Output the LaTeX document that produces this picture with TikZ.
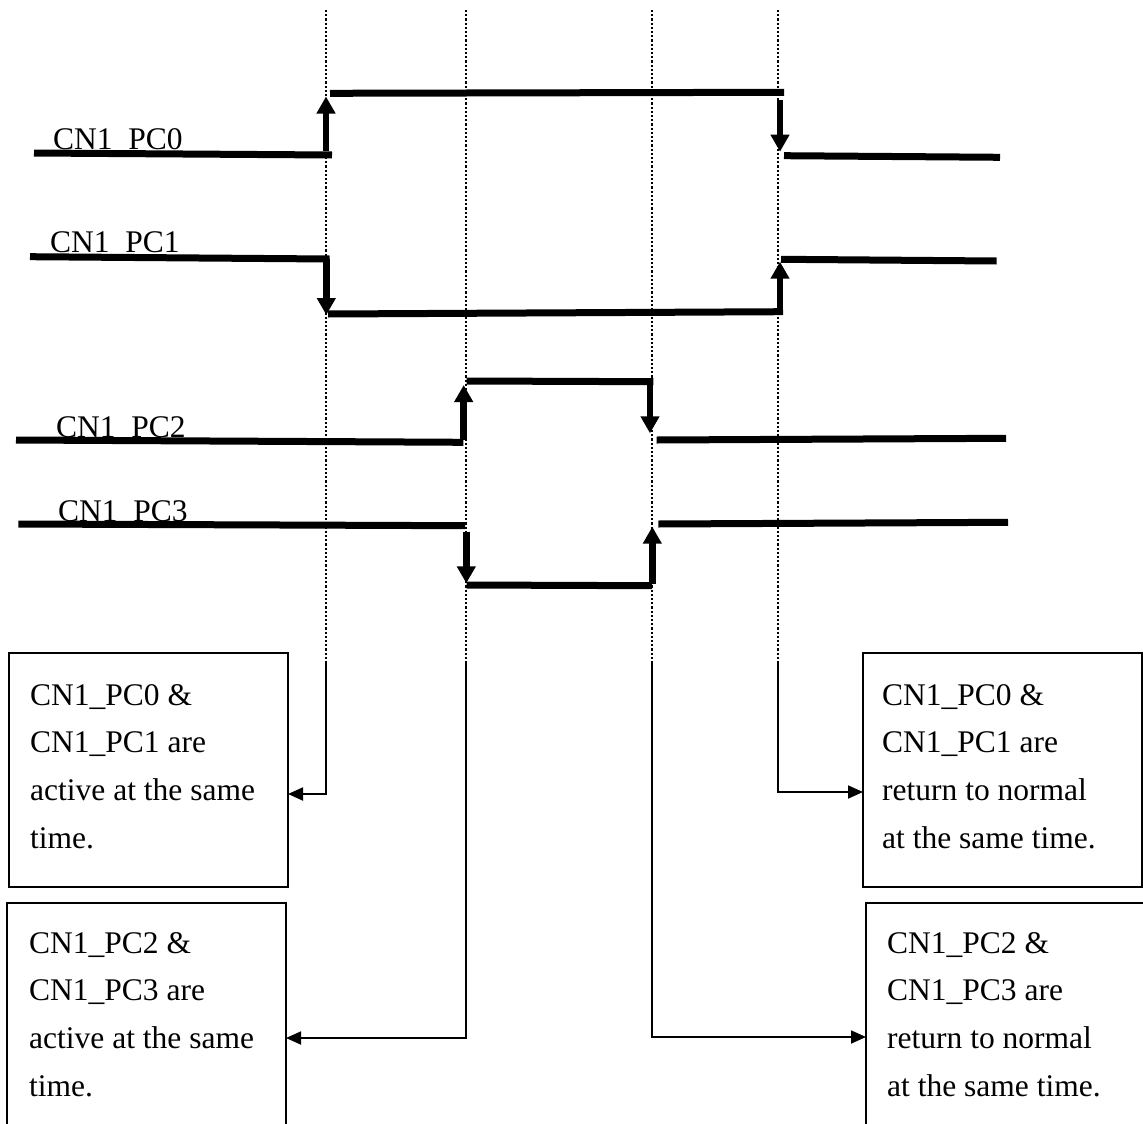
\documentclass[tikz,border=0pt]{standalone}
\usepackage{fontspec}
\setmainfont{Liberation Serif}
\usetikzlibrary{arrows.meta}
\begin{document}
\begin{tikzpicture}[x=1pt,y=-1pt,
  sig/.style={line width=7pt, line cap=butt},
  edgearr/.style={line width=6.5pt, line cap=butt, -{Triangle[length=17pt,width=18pt]}},
  guide/.style={line width=2.2pt, dash pattern=on 2.2pt off 2pt},
  conn/.style={line width=1.8pt, -{Triangle[length=15pt,width=13pt]}},
  box/.style={draw, line width=2pt, rectangle, inner sep=0pt, outer sep=0pt, anchor=north west, minimum width=279pt},
  lbl/.style={inner sep=0pt, anchor=base west, font=\fontsize{31.5pt}{38pt}\selectfont},
]
\path[use as bounding box, clip] (0,0) rectangle (1143,1124);
\fill[white] (0,0) rectangle (1143,1124);

% guide lines (dotted)
\coordinate (g1top) at (326,10);  \coordinate (g1bot) at (326,663);  \coordinate (g1k) at (326,794);
\coordinate (g2top) at (466,10);  \coordinate (g2bot) at (466,663);  \coordinate (g2k) at (466,1038);
\coordinate (g3top) at (652,10);  \coordinate (g3bot) at (652,663);  \coordinate (g3k) at (652,1037);
\coordinate (g4top) at (778,10);  \coordinate (g4bot) at (778,663);  \coordinate (g4k) at (778,792);
\draw[guide] (g1top) -- (g1bot);
\draw[guide] (g2top) -- (g2bot);
\draw[guide] (g3top) -- (g3bot);
\draw[guide] (g4top) -- (g4bot);

% signal labels
\node[lbl] (l0) at (53,149) {CN1\_PC0};
\node[lbl] (l1) at (50,252) {CN1\_PC1};
\node[lbl] (l2) at (56,437) {CN1\_PC2};
\node[lbl] (l3) at (58,521) {CN1\_PC3};

% CN1_PC0
\draw[sig] (34,153) -- (332,155);
\draw[edgearr] (326,151) -- (326,96.5);
\draw[sig] (330,93.3) -- (784,92.3);
\draw[edgearr] (780,100) -- (780,151.7);
\draw[sig] (784,155.7) -- (1000,157.3);

% CN1_PC1
\draw[sig] (30,256.7) -- (329.5,259);
\draw[edgearr] (326.3,259) -- (326.3,315);
\draw[sig] (328,314) -- (783,311.7);
\draw[edgearr] (780,315) -- (780,261.7);
\draw[sig] (781,259.3) -- (996.7,261);

% CN1_PC2
\draw[sig] (16,440) -- (463.3,442.3);
\draw[edgearr] (463.7,440) -- (463.7,385);
\draw[sig] (466.7,381) -- (653.3,381.7);
\draw[edgearr] (650,381) -- (650,433.3);
\draw[sig] (656.7,440) -- (1006,438.3);

% CN1_PC3
\draw[sig] (18.3,524) -- (465,525.7);
\draw[edgearr] (466.3,531.7) -- (466.3,583.3);
\draw[sig] (466.7,585) -- (652,585.7);
\draw[edgearr] (652.3,584) -- (652.3,526.7);
\draw[sig] (658.3,524) -- (1008,522.3);

% boxes
\node[box, minimum height=234pt] (box1) at (9,653) {};
\node[box, minimum height=240pt] (box2) at (7,903) {};
\node[box, minimum height=234pt] (box3) at (863,653) {};
\node[box, minimum height=240pt] (box4) at (866,903) {};

% box texts
\foreach \t [count=\i] in {CN1\_PC0 \&, CN1\_PC1 are, active at the same, time.}
  \node[lbl] (ta\i) at (30,{705+47.8*(\i-1)}) {\t};
\foreach \t [count=\i] in {CN1\_PC2 \&, CN1\_PC3 are, active at the same, time.}
  \node[lbl] (tb\i) at (29,{953+47.8*(\i-1)}) {\t};
\foreach \t [count=\i] in {CN1\_PC0 \&, CN1\_PC1 are, return to normal, at the same time.}
  \node[lbl] (tc\i) at (882,{705+47.8*(\i-1)}) {\t};
\foreach \t [count=\i] in {CN1\_PC2 \&, CN1\_PC3 are, return to normal, at the same time.}
  \node[lbl] (td\i) at (887,{953+47.8*(\i-1)}) {\t};

% connectors to boxes
\draw[conn] (g1bot) -- (g1k) -- (g1k -| box1.east);
\draw[conn] (g2bot) -- (g2k) -- (g2k -| box2.east);
\draw[conn] (g3bot) -- (g3k) -- (g3k -| box4.west);
\draw[conn] (g4bot) -- (g4k) -- (g4k -| box3.west);
\end{tikzpicture}
\end{document}
